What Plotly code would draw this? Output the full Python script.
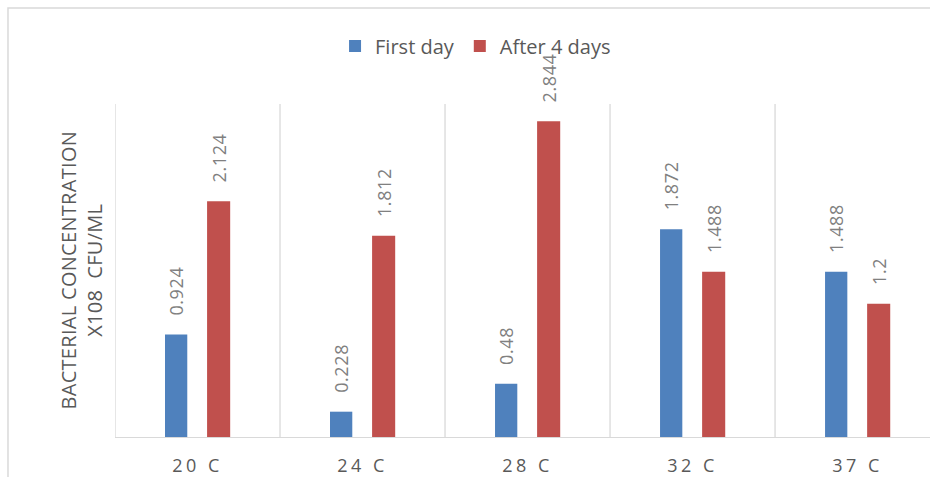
import plotly.graph_objects as go

# Incubation temperatures and bacterial counts (x10^8 CFU/ML)
temperatures = ["20 C", "24 C", "28 C", "32 C", "37 C"]
first_day = [0.924, 0.228, 0.48, 1.872, 1.488]
after_4_days = [2.124, 1.812, 2.844, 1.488, 1.2]

positions = list(range(len(temperatures)))
FONT = "Open Sans, Noto Sans, sans-serif"
label_font = dict(family=FONT, size=18, color="#808080")


def spaced(s, px):
    return f'<span style="letter-spacing:{px}px">{s}</span>'


def value_labels(values):
    # non-breaking spaces keep a gap between the bar top and its rotated label
    return [spaced("\u00a0\u00a0\u00a0" + f"{v:g}", 0.6) for v in values]


fig = go.Figure()
fig.add_trace(go.Bar(
    name="First day", x=positions, y=first_day,
    width=0.135, offset=-0.197,
    marker=dict(color="#4F81BD", line=dict(width=0)),
    text=value_labels(first_day), textposition="outside",
    textangle=-90, textfont=label_font, cliponaxis=False, constraintext="none",
))
fig.add_trace(go.Bar(
    name="After 4 days", x=positions, y=after_4_days,
    width=0.14, offset=0.058,
    marker=dict(color="#C0504D", line=dict(width=0)),
    text=value_labels(after_4_days), textposition="outside",
    textangle=-90, textfont=label_font, cliponaxis=False, constraintext="none",
))

# Outer chart frame
fig.add_shape(type="rect", xref="paper", yref="paper",
              x0=-0.1313, x1=1.2, y0=-0.5, y1=1.288,
              line=dict(color="#d9d9d9", width=1.5), layer="below")

# Category boundary lines
for b in [p - 0.5 for p in positions]:
    fig.add_shape(type="line", xref="x", yref="y", x0=b, x1=b, y0=0, y1=3,
                  line=dict(color="#d9d9d9", width=1.3), layer="below")

fig.add_annotation(
    text=spaced("BACTERIAL CONCENTRATION", 0.3) + "<br>" + spaced("X108  CFU/ML", 0.3),
    xref="paper", yref="paper", x=-0.0417, y=0.5, xanchor="center", yanchor="middle",
    textangle=-90, showarrow=False,
    font=dict(family=FONT, size=20, color="#595959"),
)

fig.update_layout(
    width=930, height=477,
    margin=dict(l=115, r=0, t=104, b=40),
    paper_bgcolor="white", plot_bgcolor="white",
    barmode="overlay",
    showlegend=True,
    legend=dict(orientation="h", x=0.27, y=1.174, xanchor="left", yanchor="middle",
                bgcolor="rgba(0,0,0,0)",
                font=dict(family=FONT, size=20, color="#595959"),
                itemwidth=30, traceorder="normal"),
    font=dict(family=FONT, color="#595959"),
)
fig.update_xaxes(
    range=[-0.5, 4.439], tickvals=positions,
    ticktext=[spaced(t, 3.5) for t in temperatures],
    showgrid=False, zeroline=False, ticks="", ticklabelstandoff=12,
    showline=True, linecolor="#d9d9d9", linewidth=1.3,
    tickfont=dict(family=FONT, size=18, color="#595959"),
)
fig.update_yaxes(range=[0, 3], showgrid=False, zeroline=False,
                 showticklabels=False, ticks="", showline=False)

fig.write_html("out.html")
